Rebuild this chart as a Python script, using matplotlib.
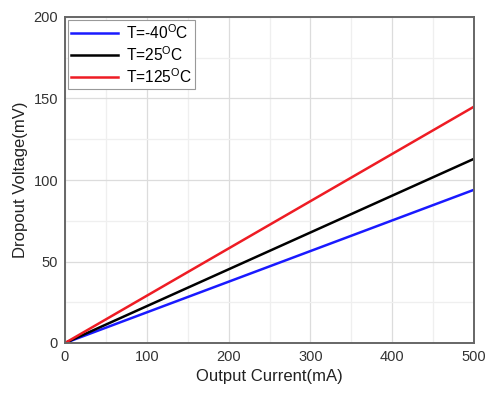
import numpy as np
import matplotlib
matplotlib.use('Agg')
import matplotlib.pyplot as plt
from matplotlib.ticker import MultipleLocator

plt.rcParams['font.family'] = ['Liberation Sans', 'DejaVu Sans']
plt.rcParams['mathtext.fontset'] = 'custom'
plt.rcParams['mathtext.rm'] = 'Liberation Sans'

current = [0, 500]
v_m40 = [0, 94]
v_25 = [0, 113]
v_125 = [0, 145]

labels = [r'T=-40$^{\rm O}$C', r'T=25$^{\rm O}$C', r'T=125$^{\rm O}$C']
colors = ['#1a1aff', '#000000', '#ee1c24']

fig = plt.figure(figsize=(4.89, 3.94), dpi=100)
ax = fig.add_axes([65 / 489, 51 / 394, 409 / 489, 326 / 394])

for v, lab, c in zip([v_m40, v_25, v_125], labels, colors):
    ax.plot(current, v, color=c, lw=1.8, label=lab)

ax.set_xlim(0, 500)
ax.set_ylim(0, 200)
ax.xaxis.set_major_locator(MultipleLocator(100))
ax.xaxis.set_minor_locator(MultipleLocator(50))
ax.yaxis.set_major_locator(MultipleLocator(50))
ax.yaxis.set_minor_locator(MultipleLocator(25))
ax.grid(which='major', color='#dcdcdc', lw=0.9)
ax.grid(which='minor', color='#efefef', lw=0.9)
ax.tick_params(which='both', length=0, labelsize=10.5, pad=5, labelcolor='#333333')
for s in ax.spines.values():
    s.set_color('#666666')
    s.set_linewidth(1.4)

ax.set_xlabel('Output Current(mA)', fontsize=12, color='#222222')
ax.set_ylabel('Dropout Voltage(mV)', fontsize=12, color='#222222')

leg = ax.legend(loc='upper left', fontsize=11.2, fancybox=False, framealpha=1,
                edgecolor='#999999', borderaxespad=0.2, handlelength=3.0,
                labelspacing=0.2, borderpad=0.2, handletextpad=0.5)
leg.get_frame().set_linewidth(0.8)

fig.savefig('out.png', dpi=100)
